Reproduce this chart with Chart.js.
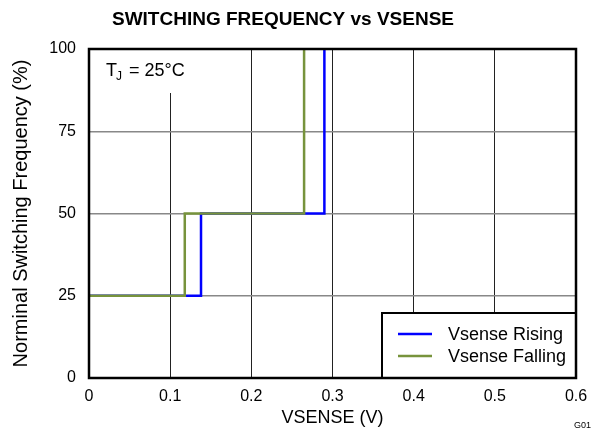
<!DOCTYPE html>
<html>
<head>
<meta charset="utf-8">
<script src="https://cdn.jsdelivr.net/npm/chart.js@4/dist/chart.umd.min.js"></script>
<style>
  html, body { margin: 0; padding: 0; background: #fff; }
  #wrap { width: 592px; height: 431px; }
</style>
</head>
<body>
<div id="wrap"><canvas id="myChart" width="592" height="431"></canvas></div>
<script>
// switching points (V), and the level reached after each step (%)
var risingX = [0, 0.138, 0.29];
var risingY = [25, 50, 100];
var fallingX = [0, 0.118, 0.265];
var fallingY = [25, 50, 100];

var xTicks = [0, 0.1, 0.2, 0.3, 0.4, 0.5, 0.6];
var yTicks = [0, 25, 50, 75, 100];

var seriesNames = ['Vsense Rising', 'Vsense Falling'];
var seriesColors = ['#0000FF', '#77933C'];

var FONT = '"Liberation Sans", Arial, sans-serif';

function toPoints(xs, ys) {
    var pts = [];
    for (var i = 0; i < xs.length; i++) {
        pts.push({x: xs[i], y: ys[i]});
    }
    return pts;
}

// title, T_J note, legend box, frame and figure id
var decorPlugin = {
    id: 'decor',
    beforeDatasetsDraw: function(chart) {
        var ctx = chart.ctx;
        var a = chart.chartArea;
        ctx.save();
        // white box behind the T_J note (hides the grid line)
        ctx.fillStyle = '#fff';
        ctx.fillRect(a.left + 1, a.top + 1, 110, 43);
        ctx.fillStyle = '#000';
        ctx.textBaseline = 'alphabetic';
        ctx.textAlign = 'left';
        ctx.font = '18px ' + FONT;
        ctx.fillText('T', 106, 76);
        ctx.font = '12px ' + FONT;
        ctx.fillText('J', 116, 80);
        ctx.font = '18px ' + FONT;
        ctx.fillText('= 25°C', 129, 76);
        ctx.restore();
    },
    afterDraw: function(chart) {
        var ctx = chart.ctx;
        var a = chart.chartArea;
        ctx.save();

        ctx.fillStyle = '#000';
        ctx.font = 'bold 19px ' + FONT;
        ctx.textAlign = 'center';
        ctx.textBaseline = 'middle';
        ctx.fillText('SWITCHING FREQUENCY vs VSENSE', 283, 20);

        // legend
        var lx = 382, ly = 313, lw = a.right - 382, lh = a.bottom - 313;
        ctx.fillStyle = '#fff';
        ctx.fillRect(lx, ly, lw, lh);
        ctx.strokeStyle = '#000';
        ctx.lineWidth = 2;
        ctx.strokeRect(lx, ly, lw, lh);
        ctx.font = '18px ' + FONT;
        ctx.textAlign = 'left';
        for (var i = 0; i < seriesNames.length; i++) {
            var yy = 334 + i * 22;
            ctx.strokeStyle = seriesColors[i];
            ctx.lineWidth = 2.5;
            ctx.beginPath();
            ctx.moveTo(398, yy);
            ctx.lineTo(432, yy);
            ctx.stroke();
            ctx.fillStyle = '#000';
            ctx.fillText(seriesNames[i], 448, yy + 1);
        }

        // plot frame
        ctx.strokeStyle = '#000';
        ctx.lineWidth = 2.5;
        ctx.strokeRect(a.left, a.top, a.right - a.left, a.bottom - a.top);

        ctx.font = '9px ' + FONT;
        ctx.fillStyle = '#000';
        ctx.fillText('G01', 574, 426);
        ctx.restore();
    }
};

var ctx = document.getElementById('myChart').getContext('2d');
var chart = new Chart(ctx, {
    type: 'line',
    data: {
        datasets: [{
            label: seriesNames[0],
            data: toPoints(risingX, risingY),
            borderColor: seriesColors[0],
            borderWidth: 2.5,
            stepped: 'before',
            pointRadius: 0,
            fill: false,
            order: 1
        }, {
            label: seriesNames[1],
            data: toPoints(fallingX, fallingY),
            borderColor: seriesColors[1],
            borderWidth: 2.5,
            stepped: 'before',
            pointRadius: 0,
            fill: false,
            order: 0
        }]
    },
    options: {
        responsive: false,
        animation: false,
        layout: {padding: {top: 49, right: 16, left: 0, bottom: 0}},
        plugins: {
            legend: {display: false},
            title: {display: false},
            tooltip: {enabled: false}
        },
        scales: {
            x: {
                type: 'linear',
                min: 0,
                max: 0.6,
                afterBuildTicks: function(s) {
                    s.ticks = xTicks.map(function(v) { return {value: v}; });
                },
                afterFit: function(s) {
                    s.height = 53;
                    s.paddingLeft = 0;
                    s.paddingRight = 0;
                },
                ticks: {
                    color: '#000',
                    font: {family: FONT, size: 16},
                    padding: 9,
                    maxRotation: 0,
                    callback: function(v) { return String(v); }
                },
                grid: {color: '#222', lineWidth: 1, drawTicks: false},
                border: {display: false},
                title: {
                    display: true,
                    text: 'VSENSE (V)',
                    color: '#000',
                    font: {family: FONT, size: 18},
                    padding: {top: 0, bottom: 2}
                }
            },
            y: {
                min: 0,
                max: 100,
                afterBuildTicks: function(s) {
                    s.ticks = yTicks.map(function(v) { return {value: v}; });
                },
                afterFit: function(s) {
                    s.width = 89;
                    s.paddingTop = 0;
                    s.paddingBottom = 0;
                },
                ticks: {
                    color: '#000',
                    font: {family: FONT, size: 16},
                    padding: 13
                },
                grid: {color: '#888', lineWidth: 1.5, drawTicks: false},
                border: {display: false},
                title: {
                    display: true,
                    text: 'Norminal Switching Frequency (%)',
                    color: '#000',
                    font: {family: FONT, size: 20},
                    padding: {top: 9, bottom: 0}
                }
            }
        }
    },
    plugins: [decorPlugin]
});
</script>
</body>
</html>
